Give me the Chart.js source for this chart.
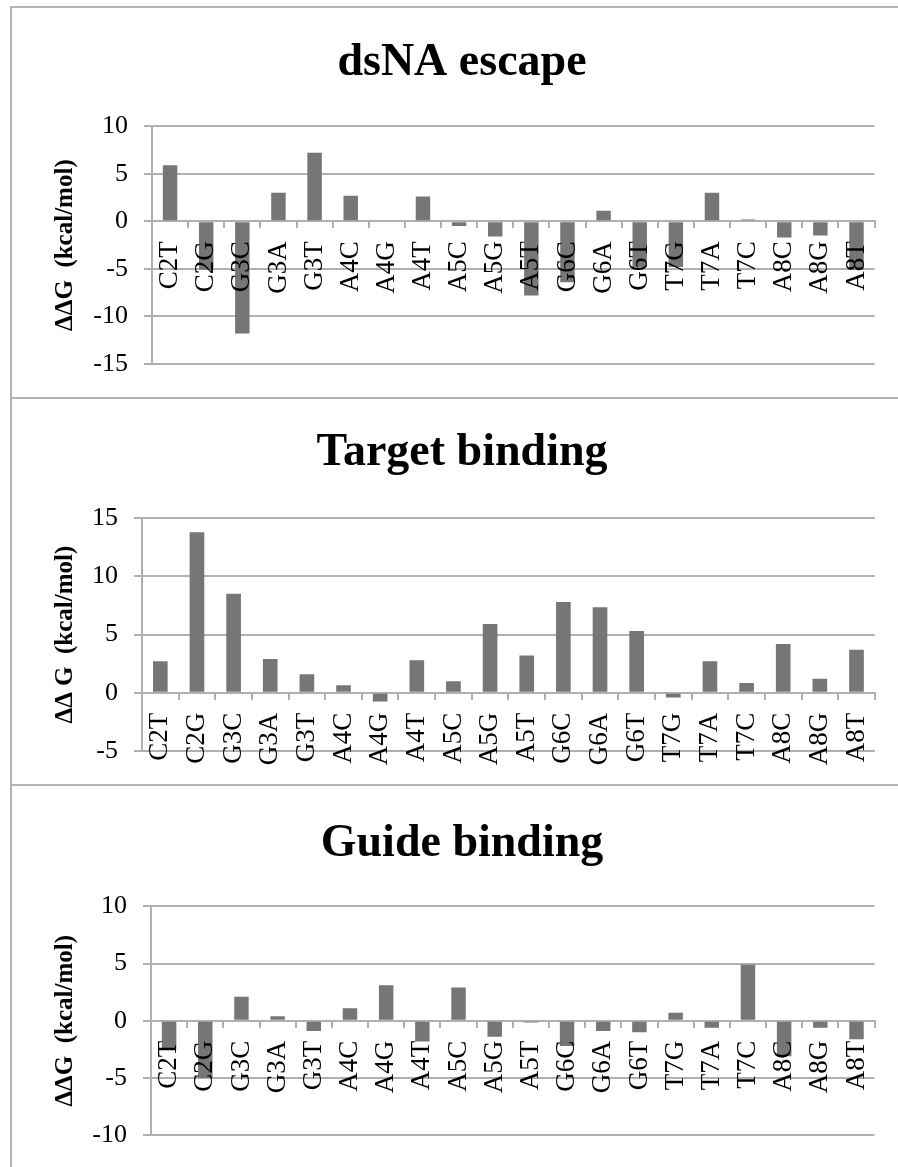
<!DOCTYPE html>
<html>
<head>
<meta charset="utf-8">
<script src="https://cdn.jsdelivr.net/npm/chart.js@4.4.1/dist/chart.umd.min.js"></script>
<style>
  body { margin: 0; background: #fff; }
  #page { position: relative; width: 898px; height: 1167px; overflow: hidden; }
  canvas { position: absolute; left: 0; }
  .frame { position: absolute; left: 10px; width: 900px; border-left: 2px solid #b4b4b4; border-top: 2px solid #b4b4b4; }
</style>
</head>
<body>
<div id="page">
  <div class="frame" style="top:6px; height:391px;"></div>
  <div class="frame" style="top:397px; height:387px;"></div>
  <div class="frame" style="top:784px; height:400px;"></div>
  <canvas id="c1" width="898" height="398" style="top:0px;"></canvas>
  <canvas id="c2" width="898" height="387" style="top:398px;"></canvas>
  <canvas id="c3" width="898" height="382" style="top:785px;"></canvas>
</div>
<script>
// mutations (same order in all three panels)
const mutations = ["C2T", "C2G", "G3C", "G3A", "G3T", "A4C", "A4G", "A4T", "A5C", "A5G",
                   "A5T", "G6C", "G6A", "G6T", "T7G", "T7A", "T7C", "A8C", "A8G", "A8T"];

// ddG values in kcal/mol
const dsnaEscape = [5.9, -5.1, -11.8, 3.0, 7.2, 2.7, -0.1, 2.6, -0.5, -1.6,
                    -7.8, -6.4, 1.1, -4.8, -4.8, 3.0, 0.2, -1.7, -1.5, -5.1];
const targetBinding = [2.7, 13.8, 8.5, 2.9, 1.6, 0.65, -0.75, 2.8, 1.0, 5.9,
                       3.2, 7.8, 7.35, 5.3, -0.4, 2.7, 0.85, 4.2, 1.2, 3.7];
const guideBinding = [-2.5, -5.0, 2.1, 0.4, -0.9, 1.1, 3.1, -1.8, 2.9, -1.4,
                      -0.15, -2.2, -0.9, -1.0, 0.7, -0.6, 4.9, -3.1, -0.6, -1.6];

const FONT = "'Liberation Serif', 'Times New Roman', serif";
const GRID = "#b0b0b0";
const BAR = "#767676";

function drawPanel(id, title, yTitle, values, yMin, yMax, p) {
    new Chart(document.getElementById(id), {
        type: 'bar',
        data: {
            labels: mutations,
            datasets: [{
                data: values,
                backgroundColor: BAR,
                borderWidth: 0,
                barPercentage: 0.4,
                categoryPercentage: 1.0
            }]
        },
        options: {
            responsive: false,
            animation: false,
            layout: { padding: { left: 46, right: 20, top: 0, bottom: p.bottom } },
            plugins: {
                legend: { display: false },
                tooltip: { enabled: false },
                title: {
                    display: true,
                    text: title,
                    color: '#000',
                    font: { family: FONT, size: 46, weight: 'bold' },
                    padding: { top: p.titleTop, bottom: p.titleBottom }
                }
            },
            scales: {
                x: {
                    type: 'category',
                    position: { y: 0 },
                    grid: { drawOnChartArea: false, drawTicks: true, tickLength: 6, color: GRID, lineWidth: 2, offset: true },
                    border: { color: GRID, width: 2 },
                    ticks: {
                        autoSkip: false, minRotation: 90, maxRotation: 90,
                        color: '#000', padding: 14, z: 1,
                        font: { family: FONT, size: 27, lineHeight: 1.0 }
                    }
                },
                y: {
                    min: yMin,
                    max: yMax,
                    afterFit: s => { s.width = p.yWidth; },
                    grid: { color: GRID, lineWidth: 2, tickLength: 8 },
                    border: { color: GRID, width: 2 },
                    ticks: {
                        stepSize: 5, color: '#000', padding: 16,
                        font: { family: FONT, size: 26 }
                    },
                    title: {
                        display: true,
                        text: yTitle,
                        color: '#000',
                        font: { family: FONT, size: 25, weight: 'bold' },
                        padding: { top: 5, bottom: 0 }
                    }
                }
            }
        }
    });
}

drawPanel('c1', 'dsNA escape', 'ΔΔG  (kcal/mol)', dsnaEscape, -15, 10,
          { titleTop: 36, titleBottom: 35, bottom: 34, yWidth: 106 });
drawPanel('c2', 'Target binding', 'ΔΔ G  (kcal/mol)', targetBinding, -5, 15,
          { titleTop: 28, titleBottom: 37, bottom: 34, yWidth: 96 });
drawPanel('c3', 'Guide binding', 'ΔΔG  (kcal/mol)', guideBinding, -10, 10,
          { titleTop: 32, titleBottom: 34, bottom: 29, yWidth: 105 });
</script>
</body>
</html>
